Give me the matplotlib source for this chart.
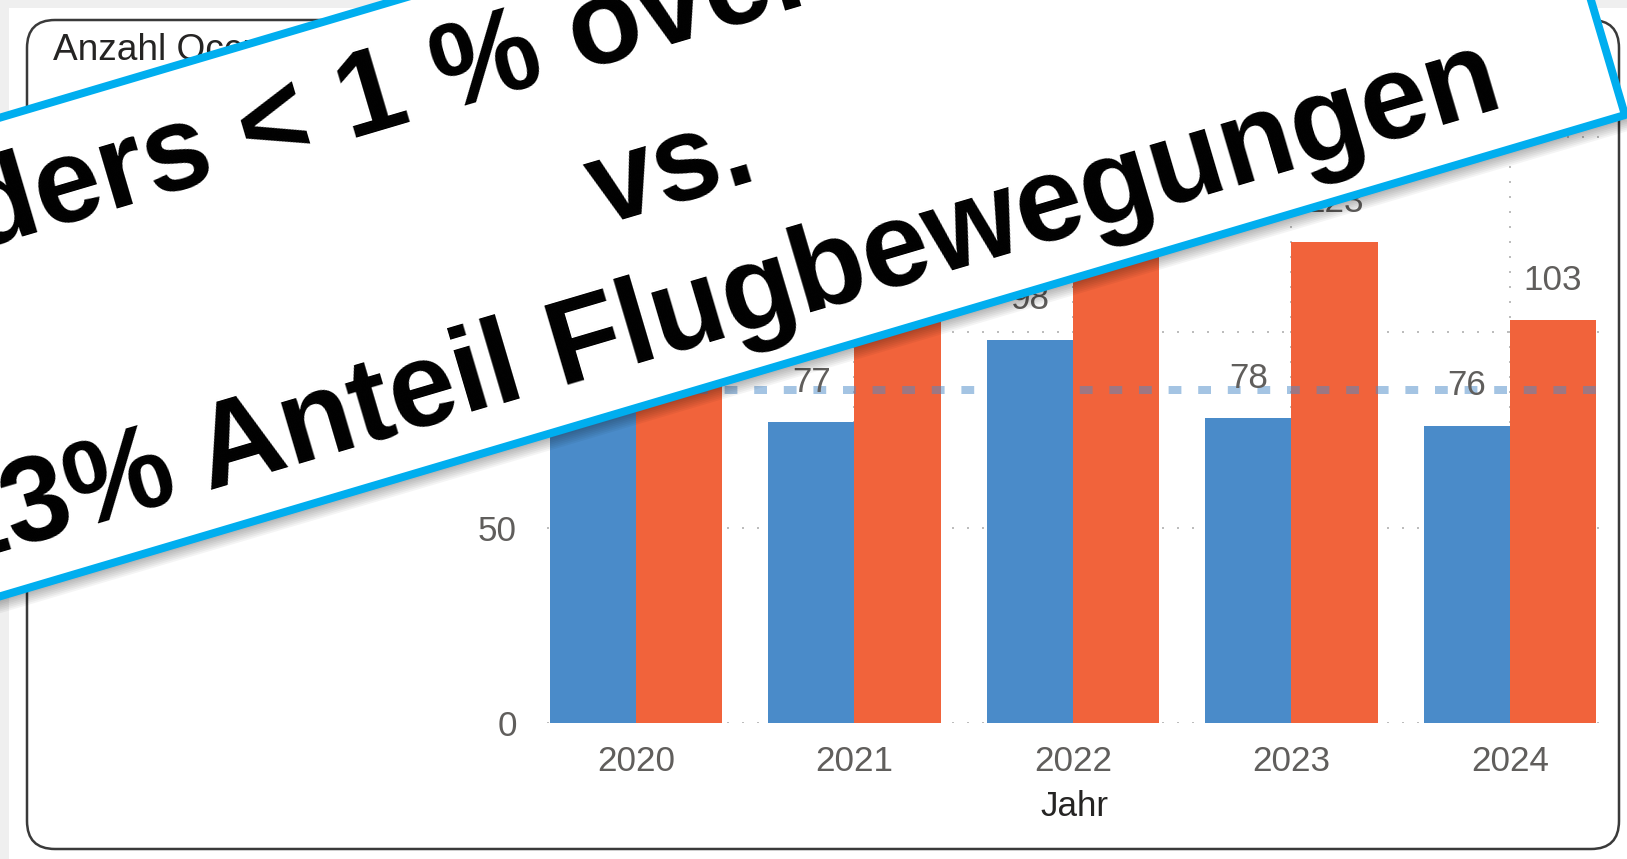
import numpy as np
import matplotlib.pyplot as plt
from matplotlib.patches import Polygon, FancyBboxPatch, Rectangle

# data (hidden values are estimates)
years = ["2020", "2021", "2022", "2023", "2024"]
blue_vals = [97, 77, 98, 78, 76]
orange_vals = [112, 115, 135, 123, 103]
y_ticks = [0, 50, 100, 150]
title = "Anzahl Occurrences"
x_label = "Jahr"
banner_lines = ["Gliders < 1 % overall", "vs.", "13% Anteil Flugbewegungen"]

W, H = 1627, 859
BLUE = "#4A8BC9"
ORANGE = "#F1633B"
CYAN = "#00AEEF"
GRID = "#BDBDBD"
TICK = "#605E5C"
DARK = "#252423"
FONT = ["Liberation Sans", "DejaVu Sans"]


def px(v):
    # pixels -> points at dpi 100
    return v * 72 / 100


fig = plt.figure(figsize=(W / 100, H / 100), dpi=100, facecolor="#EFEFEF")

# background / card
bg = fig.add_axes([0, 0, 1, 1], zorder=0)
bg.set_xlim(0, W)
bg.set_ylim(H, 0)
bg.axis("off")
bg.add_patch(Rectangle((9, 8), W, H, facecolor="white", edgecolor="none"))
bg.add_patch(FancyBboxPatch((27, 20), 1592, 829,
                            boxstyle="round,pad=0,rounding_size=28",
                            facecolor="white", edgecolor="#3A3A3A",
                            linewidth=px(2.5)))
bg.text(53, 51, title, ha="left", va="center", fontsize=px(37),
        color=DARK, family=FONT)
bg.text(1074, 807, x_label, ha="center", va="center", fontsize=px(35),
        color=DARK, family=FONT)

# chart
base_y = 723.3
unit = 3.912
ymax = 160
ax = fig.add_axes([547 / W, (H - base_y) / H, (1603 - 547) / W,
                   ymax * unit / H], zorder=1)
ax.patch.set_alpha(0)
x = np.arange(len(years))
bw = 0.394
ax.bar(x - bw / 2, blue_vals, bw, color=BLUE, zorder=2)
ax.bar(x + bw / 2, orange_vals, bw, color=ORANGE, zorder=2)
ax.set_xlim(-0.407, 4.426)
ax.set_ylim(0, ymax)
ax.set_xticks(x)
ax.set_xticklabels(years)
ax.set_yticks(y_ticks)
ax.grid(True, color=GRID, linestyle=(0, (1, 6.5)), linewidth=px(2))
ax.set_axisbelow(True)
for sp in ax.spines.values():
    sp.set_visible(False)
ax.tick_params(axis="y", length=0, labelsize=px(35), labelcolor=TICK,
               pad=px(30))
ax.tick_params(axis="x", length=0, labelsize=px(35), labelcolor=TICK,
               pad=px(22))
for lab in ax.get_xticklabels() + ax.get_yticklabels():
    lab.set_family(FONT)

ax.axhline(np.mean(blue_vals), color=BLUE, alpha=0.5, lw=px(8),
           linestyle=(0, (1.6, 2.1)), dash_capstyle="butt", zorder=3)

for xi, v in zip(x - bw / 2, blue_vals):
    ax.annotate(str(v), (xi, v), xytext=(0, px(40)), textcoords="offset points",
                ha="center", va="center", fontsize=px(35), color=TICK,
                family=FONT, zorder=4)
for xi, v in zip(x + bw / 2, orange_vals):
    ax.annotate(str(v), (xi, v), xytext=(0, px(40)), textcoords="offset points",
                ha="center", va="center", fontsize=px(35), color=TICK,
                family=FONT, zorder=4)

# rotated banner on top
fg = fig.add_axes([0, 0, 1, 1], zorder=5)
fg.set_xlim(0, W)
fg.set_ylim(H, 0)
fg.axis("off")
ang = 16.5
th = np.deg2rad(ang)
u = np.array([np.cos(th), -np.sin(th)])
n = np.array([np.sin(th), np.cos(th)])
br = np.array([1625.0, 115.0])
BH = 459
bl = br - 2600 * u
tr = br - BH * n
tl = bl - BH * n
corners = [tl, tr, br, bl]
for k in range(1, 10):
    off = np.array([k * 0.6, k * 1.7])
    fg.add_patch(Polygon([c + off for c in corners], closed=True,
                         facecolor="black", alpha=0.045, edgecolor="none"))
fg.add_patch(Polygon(corners, closed=True, facecolor="white", edgecolor=CYAN,
                     linewidth=px(8), joinstyle="miter"))

p0 = tr - (tr[0] / u[0]) * u  # upper edge at x = 0


def at(s, t):
    return p0 + s * u + t * n


fs = px(120)
pos = [(-222, 120, "left"), (628, 274, "center"), (1447, 417, "right")]
for line, (s, t, ha) in zip(banner_lines, pos):
    xx, yy = at(s, t)
    fg.text(xx, yy, line, ha=ha, va="baseline", rotation=ang,
            rotation_mode="anchor", fontsize=fs, fontweight="bold",
            color="black", family=FONT)

fig.savefig("out.png", dpi=100, facecolor=fig.get_facecolor())
